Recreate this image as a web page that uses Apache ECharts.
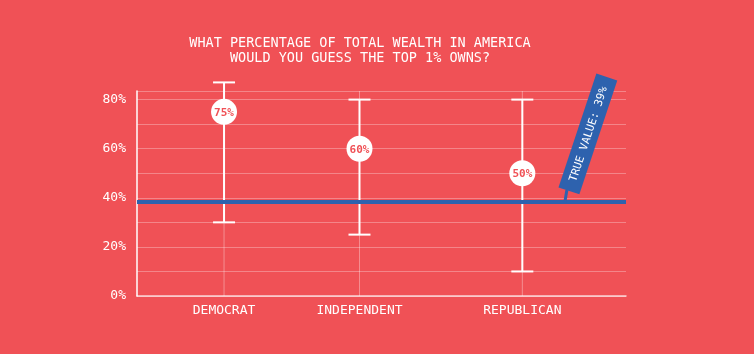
<!DOCTYPE html>
<html>

<head>
    <meta charset="utf-8">
    <title>Top 1% wealth guess</title>
    <script src="https://cdn.jsdelivr.net/npm/echarts@6/dist/echarts.min.js"></script>
    <style>
        html, body { margin: 0; padding: 0; background: #f05156; }
    </style>
</head>

<body>
    <div id="main" style="width: 754px;height:354px;"></div>
    <script type="text/javascript">
        // data
        var categories = ['DEMOCRAT', 'INDEPENDENT', 'REPUBLICAN'];
        var guessLow = [30, 25, 10];
        var guessHigh = [87, 80, 80];
        var guessMedian = [75, 60, 50];
        var trueValue = 39;        // what the label says
        var trueLineAt = 38.3;     // where the blue rule is drawn in the picture
        var yTickLabels = [0, 20, 40, 60, 80];

        // where each party sits along the (uneven) x axis, 0..100
        var catX = [17.8, 45.5, 78.8];
        var annotX = 87.5;

        var bg = '#f05156';
        var blue = '#2e62ae';
        var mono = "'DejaVu Sans Mono', monospace";

        var dom = document.getElementById('main');
        var myChart = echarts.init(dom);

        var whiskerData = categories.map(function (c, i) {
            return [catX[i], guessLow[i], guessHigh[i], guessMedian[i]];
        });

        function renderWhisker(params, api) {
            var x = api.value(0);
            var lo = api.coord([x, api.value(1)]);
            var hi = api.coord([x, api.value(2)]);
            var mid = api.coord([x, api.value(3)]);
            var cs = params.coordSys;
            var capW = 11;
            return {
                type: 'group',
                children: [
                    // faint vertical gridline for the category
                    {
                        type: 'line',
                        shape: { x1: lo[0], y1: cs.y, x2: lo[0], y2: cs.y + cs.height },
                        style: { stroke: 'rgba(255,255,255,0.35)', lineWidth: 1 }
                    },
                    {
                        type: 'line',
                        shape: { x1: lo[0], y1: lo[1], x2: hi[0], y2: hi[1] },
                        style: { stroke: '#fff', lineWidth: 2 }
                    },
                    {
                        type: 'line',
                        shape: { x1: lo[0] - capW, y1: lo[1], x2: lo[0] + capW, y2: lo[1] },
                        style: { stroke: '#fff', lineWidth: 2 }
                    },
                    {
                        type: 'line',
                        shape: { x1: hi[0] - capW, y1: hi[1], x2: hi[0] + capW, y2: hi[1] },
                        style: { stroke: '#fff', lineWidth: 2 }
                    },
                    {
                        type: 'circle',
                        shape: { cx: mid[0], cy: mid[1], r: 13 },
                        style: { fill: '#fff' }
                    },
                    {
                        type: 'text',
                        style: {
                            x: mid[0],
                            y: mid[1] + 1,
                            text: api.value(3) + '%',
                            fill: bg,
                            font: 'bold 11px ' + mono,
                            textAlign: 'center',
                            textVerticalAlign: 'middle'
                        }
                    }
                ]
            };
        }

        function renderAnnotation(params, api) {
            var p = api.coord([api.value(0), api.value(1)]);
            return {
                type: 'group',
                x: p[0],
                y: p[1],
                children: [
                    {
                        type: 'line',
                        shape: { x1: 0, y1: 0, x2: 2, y2: -12 },
                        style: { stroke: blue, lineWidth: 3 }
                    },
                    {
                        type: 'group',
                        x: 23,
                        y: -68,
                        rotation: 71.6 * Math.PI / 180,
                        children: [
                            {
                                type: 'rect',
                                shape: { x: -60, y: -11, width: 120, height: 22 },
                                style: { fill: blue }
                            },
                            {
                                type: 'text',
                                style: {
                                    x: 0,
                                    y: 1,
                                    text: 'TRUE VALUE: ' + trueValue + '%',
                                    fill: '#fff',
                                    font: '11px ' + mono,
                                    textAlign: 'center',
                                    textVerticalAlign: 'middle'
                                }
                            }
                        ]
                    }
                ]
            };
        }

        var option = {
            backgroundColor: bg,
            animation: false,
            graphic: [{
                type: 'text',
                x: 360,
                y: 36,
                style: {
                    text: 'WHAT PERCENTAGE OF TOTAL WEALTH IN AMERICA\nWOULD YOU GUESS THE TOP 1% OWNS?',
                    fill: '#fff',
                    font: '13.5px ' + mono,
                    textAlign: 'center',
                    lineHeight: 15
                }
            }],
            grid: {
                left: 137,
                right: 128,
                top: 91,
                bottom: 58
            },
            xAxis: {
                type: 'value',
                min: 0,
                max: 100,
                splitLine: { show: false },
                axisTick: { show: false },
                axisLine: { lineStyle: { color: 'rgba(255,255,255,0.75)', width: 1.5 } },
                axisLabel: {
                    customValues: catX,
                    margin: 8,
                    color: '#fff',
                    fontFamily: mono,
                    fontSize: 13,
                    formatter: function (v) {
                        var i = catX.indexOf(v);
                        return i >= 0 ? categories[i] : '';
                    }
                }
            },
            yAxis: {
                type: 'value',
                min: 0,
                max: 83.5,
                interval: 10,
                axisLine: { show: true, lineStyle: { color: '#fff', width: 1.5 } },
                axisTick: { show: false },
                splitLine: { lineStyle: { color: 'rgba(255,255,255,0.3)', width: 1 } },
                axisLabel: {
                    margin: 11,
                    color: '#fff',
                    fontFamily: mono,
                    fontSize: 13,
                    showMaxLabel: false,
                    formatter: function (v) {
                        return yTickLabels.indexOf(v) >= 0 ? v + '%' : '';
                    }
                }
            },
            series: [{
                type: 'custom',
                z: 3,
                renderItem: renderWhisker,
                encode: { x: 0, y: [1, 2, 3] },
                data: whiskerData
            }, {
                type: 'line',
                z: 5,
                data: [],
                markLine: {
                    silent: true,
                    symbol: 'none',
                    label: { show: false },
                    lineStyle: { color: blue, width: 4, type: 'solid' },
                    data: [{ yAxis: trueLineAt }]
                }
            }, {
                type: 'custom',
                z: 6,
                renderItem: renderAnnotation,
                encode: { x: 0, y: 1 },
                data: [[annotX, trueLineAt]]
            }]
        };

        myChart.setOption(option);
    </script>
</body>

</html>
